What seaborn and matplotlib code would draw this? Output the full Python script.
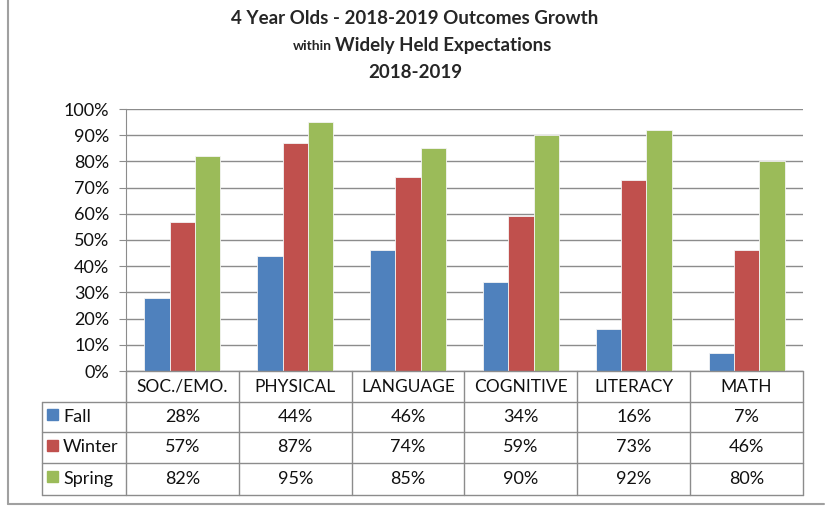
import numpy as np
import pandas as pd
import matplotlib
matplotlib.use("Agg")
import matplotlib.pyplot as plt
import matplotlib.transforms as mtransforms
from matplotlib.lines import Line2D
from matplotlib.patches import Rectangle
import seaborn as sns

categories = ["SOC./EMO.", "PHYSICAL", "LANGUAGE", "COGNITIVE", "LITERACY", "MATH"]
seasons = ["Fall", "Winter", "Spring"]
fall = [28, 44, 46, 34, 16, 7]
winter = [57, 87, 74, 59, 73, 46]
spring = [82, 95, 85, 90, 92, 80]
yticks = [0, 10, 20, 30, 40, 50, 60, 70, 80, 90, 100]
colors = ["#4F81BD", "#C0504D", "#9BBB59"]

df = pd.DataFrame({
    "category": categories * 3,
    "season": sum([[s] * len(categories) for s in seasons], []),
    "value": fall + winter + spring,
})

sns.set_style("white")
plt.rcParams["font.family"] = ["Lato", "DejaVu Sans"]

W, H = 825, 508
fig = plt.figure(figsize=(W / 100, H / 100), dpi=100)


def fx(px):
    return px / W


def fy(py):
    return 1 - py / H


# plot area in pixels
L, R, T, B = 126, 803, 109, 371
ax = fig.add_axes([fx(L), fy(B), fx(R) - fx(L), fy(T) - fy(B)])

sns.barplot(data=df, x="category", y="value", hue="season", order=categories,
            hue_order=seasons, palette=colors, saturation=1, width=0.675, gap=0,
            edgecolor="#f4f4f4", linewidth=0.6, legend=False, ax=ax, zorder=3)

ax.set_xlim(-0.5, len(categories) - 0.5)
ax.set_ylim(0, 100)
ax.set_yticks(yticks)
ax.set_yticklabels([f"{t}%" for t in yticks], fontsize=13, color="#111111")
ax.yaxis.grid(True, color="#8c8c8c", lw=1)
ax.set_axisbelow(True)
ax.set_xticks([])
ax.set_xlabel("")
ax.set_ylabel("")
for s in ["top", "right", "bottom"]:
    ax.spines[s].set_visible(False)
ax.spines["left"].set_color("#8c8c8c")
ax.tick_params(axis="y", length=5, color="#8c8c8c", left=True, pad=7)

# data table below the plot
line_kw = dict(color="#8c8c8c", lw=1, transform=fig.transFigure)
rows = [371, 402, 432, 463, 495]
tab_left = 42
bounds = np.linspace(L, R, len(categories) + 1)
fig.add_artist(Line2D([fx(L), fx(R)], [fy(rows[0])] * 2, **line_kw))
for r in rows[1:]:
    fig.add_artist(Line2D([fx(tab_left), fx(R)], [fy(r)] * 2, **line_kw))
for b in bounds:
    fig.add_artist(Line2D([fx(b)] * 2, [fy(rows[0]), fy(rows[-1])], **line_kw))
fig.add_artist(Line2D([fx(tab_left)] * 2, [fy(rows[1]), fy(rows[-1])], **line_kw))

trans = mtransforms.blended_transform_factory(ax.transData, fig.transFigure)
for i, c in enumerate(categories):
    t = fig.text(0, fy((rows[0] + rows[1]) / 2), c, transform=trans, fontsize=12.5,
                 ha="center", va="center", color="#111111")
    t.set_x(i)

series = [fall, winter, spring]
for j, (name, vals, col) in enumerate(zip(seasons, series, colors)):
    yc = fy((rows[j + 1] + rows[j + 2]) / 2)
    fig.add_artist(Rectangle((fx(47), yc - 0.006), fx(11), 11 / H,
                             transform=fig.transFigure, color=col))
    fig.text(fx(63), yc, name, fontsize=13, ha="left", va="center", color="#111111")
    for i, v in enumerate(vals):
        t = fig.text(0, yc, f"{v}%", transform=trans, fontsize=13,
                     ha="center", va="center", color="#111111")
        t.set_x(i)

# titles
fig.text(fx(415), fy(18), "4 Year Olds - 2018-2019 Outcomes Growth",
         fontsize=13.5, fontweight="bold", ha="center", va="center")
fig.text(fx(332), fy(46), "within", fontsize=10, fontweight="bold",
         ha="right", va="center")
fig.text(fx(335), fy(45), "Widely Held Expectations", fontsize=13.5,
         fontweight="bold", ha="left", va="center")
fig.text(fx(415), fy(72), "2018-2019", fontsize=13.5, fontweight="bold",
         ha="center", va="center")

# outer frame
fig.add_artist(Line2D([fx(8), fx(8)], [1, fy(504)], color="#a0a0a0", lw=1.5,
                      transform=fig.transFigure))
fig.add_artist(Line2D([fx(8), fx(824)], [fy(504)] * 2, color="#a0a0a0", lw=1.5,
                      transform=fig.transFigure))

fig.savefig("out.png", dpi=100)
